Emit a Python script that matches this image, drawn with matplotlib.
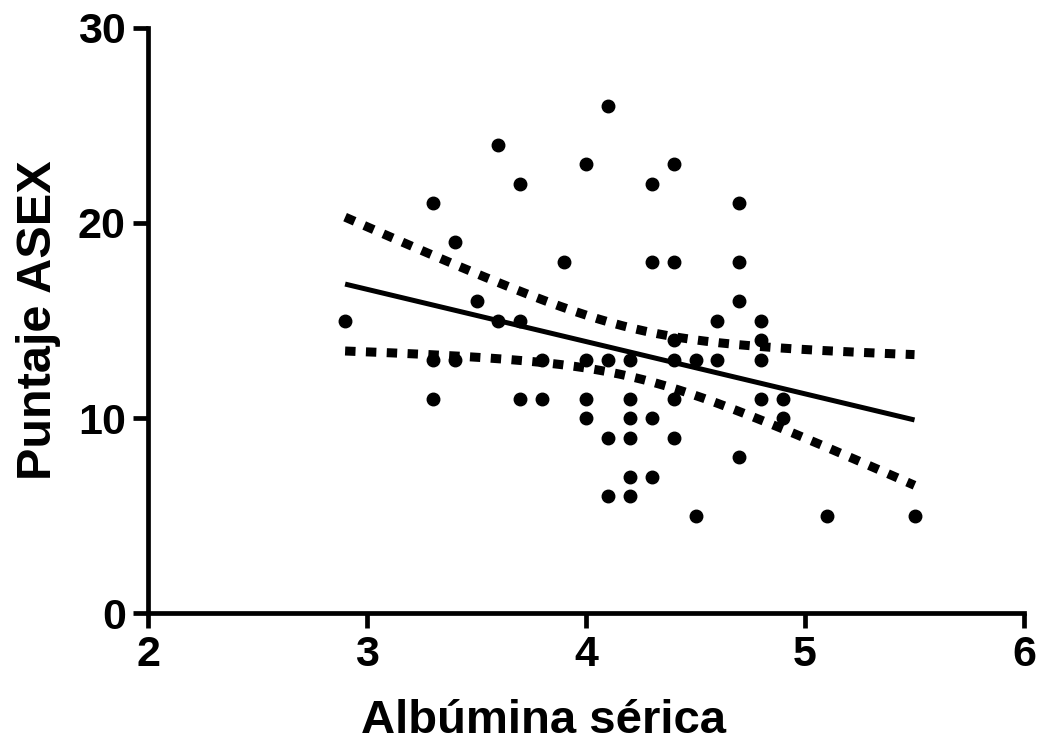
import numpy as np
import matplotlib
matplotlib.use("Agg")
from matplotlib import pyplot as plt

# serum albumin (g/dL) and ASEX score, one entry per patient
albumina = [2.9,
            3.3, 3.3, 3.3,
            3.4, 3.4,
            3.5,
            3.6, 3.6,
            3.7, 3.7, 3.7,
            3.8, 3.8,
            3.9,
            4.0, 4.0, 4.0, 4.0,
            4.1, 4.1, 4.1, 4.1,
            4.2, 4.2, 4.2, 4.2, 4.2, 4.2,
            4.3, 4.3, 4.3, 4.3,
            4.4, 4.4, 4.4, 4.4, 4.4, 4.4,
            4.5, 4.5,
            4.6, 4.6,
            4.7, 4.7, 4.7, 4.7,
            4.8, 4.8, 4.8, 4.8,
            4.9, 4.9,
            5.1,
            5.5]
asex = [15,
        21, 13, 11,
        19, 13,
        16,
        24, 15,
        22, 15, 11,
        13, 11,
        18,
        23, 13, 11, 10,
        26, 13, 9, 6,
        13, 11, 10, 9, 7, 6,
        22, 18, 10, 7,
        23, 18, 14, 13, 11, 9,
        13, 5,
        15, 13,
        21, 18, 16, 8,
        15, 14, 13, 11,
        11, 10,
        5,
        5]

# linear fit and its 95% confidence band as reported
fit_slope = -2.68
fit_intercept = 24.64
band_center = 4.218      # x where the band is narrowest
band_min_half = 1.25     # half-width there
band_spread = 2.425      # growth of the half-width per unit of x

x_ticks = [2, 3, 4, 5, 6]
y_ticks = [0, 10, 20, 30]

x = np.array(albumina)
y = np.array(asex)

xf = np.linspace(x.min(), x.max(), 200)
yf = fit_slope * xf + fit_intercept
half = np.sqrt(band_min_half ** 2 + (band_spread * (xf - band_center)) ** 2)

plt.rcParams["font.family"] = ["Liberation Sans", "DejaVu Sans"]
plt.rcParams["font.weight"] = "bold"
plt.rcParams["lines.scale_dashes"] = False

fig = plt.figure(figsize=(10.43, 7.52), dpi=100)
ax = fig.add_axes([0.1419, 0.1848, 0.8399, 0.778])

ax.plot(x, y, "o", color="black", markersize=9, zorder=3)
ax.plot(xf, yf, color="black", linewidth=3.6, solid_capstyle="butt")
for band in (yf + half, yf - half):
    ax.plot(xf, band, color="black", linewidth=6.5, dashes=(7.5, 7.5),
            dash_capstyle="butt")

ax.set_xlim(2, 6)
ax.set_ylim(0, 30)
ax.set_xticks(x_ticks)
ax.set_yticks(y_ticks)
ax.spines["top"].set_visible(False)
ax.spines["right"].set_visible(False)
for side in ("left", "bottom"):
    ax.spines[side].set_linewidth(3.4)
    ax.spines[side].set_capstyle("projecting")
ax.tick_params(direction="out", length=11, width=3.4, labelsize=31, pad=5)
for lab in ax.get_xticklabels() + ax.get_yticklabels():
    lab.set_fontweight("bold")

ax.set_xlabel("Albúmina sérica", fontsize=34, fontweight="bold")
ax.xaxis.set_label_coords(0.451, -0.147)
ax.set_ylabel("Puntaje ASEX", fontsize=35, fontweight="bold", labelpad=12)

fig.savefig("out.png", dpi=100)
